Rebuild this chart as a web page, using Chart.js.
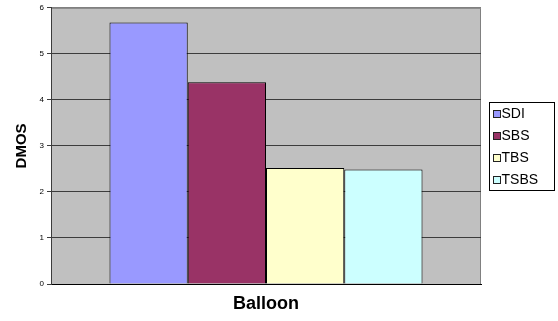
<!DOCTYPE html>
<html>
<head>
<meta charset="utf-8">
<script src="https://cdn.jsdelivr.net/npm/chart.js@4/dist/chart.umd.min.js"></script>
<style>
  html, body { margin: 0; padding: 0; background: #fff; }
  #wrap { width: 558px; height: 321px; }
</style>
</head>
<body>
<div id="wrap"><canvas id="c" width="558" height="321"></canvas></div>
<script>
// Categories and series
const categories = ['Balloon'];
const seriesNames = ['SDI', 'SBS', 'TBS', 'TSBS'];
const sdiValues = [5.68];
const sbsValues = [4.38];
const tbsValues = [2.52];
const tsbsValues = [2.49];
const yTicks = [0, 1, 2, 3, 4, 5, 6];

const seriesColors = ['#9999FF', '#993366', '#FFFFCC', '#CCFFFF'];
const seriesValues = [sdiValues, sbsValues, tbsValues, tsbsValues];

const FONT = 'Arial, "Liberation Sans", Helvetica, sans-serif';

// Grey plot background with a light frame on top and right
const plotFrame = {
  id: 'plotFrame',
  beforeDraw(chart) {
    const { ctx, chartArea: a } = chart;
    ctx.save();
    ctx.fillStyle = '#C0C0C0';
    ctx.fillRect(a.left, a.top, a.right - a.left, a.bottom - a.top);
    ctx.strokeStyle = '#808080';
    ctx.lineWidth = 1;
    ctx.beginPath();
    ctx.moveTo(a.left, a.top + 0.5);
    ctx.lineTo(a.right - 0.5, a.top + 0.5);
    ctx.lineTo(a.right - 0.5, a.bottom);
    ctx.stroke();
    ctx.restore();
  }
};

// Boxed legend on the right
const boxLegend = {
  id: 'boxLegend',
  afterDraw(chart) {
    const { ctx } = chart;
    const x = 489.5, y = 102.5, w = 65, h = 88;
    ctx.save();
    ctx.fillStyle = '#fff';
    ctx.fillRect(x, y, w, h);
    ctx.strokeStyle = '#000';
    ctx.lineWidth = 1;
    ctx.strokeRect(x, y, w, h);
    ctx.font = '14px ' + FONT;
    ctx.textBaseline = 'middle';
    ctx.textAlign = 'left';
    chart.data.datasets.forEach((ds, i) => {
      const cy = 114 + i * 22;
      ctx.fillStyle = ds.backgroundColor;
      ctx.fillRect(493.5, cy - 3.5, 7, 7);
      ctx.strokeStyle = '#222';
      ctx.strokeRect(493.5, cy - 3.5, 7, 7);
      ctx.fillStyle = '#000';
      ctx.fillText(ds.label, 501.5, cy + 0.5);
    });
    ctx.restore();
  }
};

new Chart(document.getElementById('c'), {
  type: 'bar',
  data: {
    labels: categories,
    datasets: seriesNames.map((name, i) => ({
      label: name,
      data: seriesValues[i],
      backgroundColor: seriesColors[i],
      borderColor: '#000',
      borderWidth: 1,
      categoryPercentage: 0.728,
      barPercentage: 1.0
    }))
  },
  options: {
    responsive: false,
    animation: false,
    events: [],
    layout: { padding: { top: 7, right: 77, left: 0, bottom: 0 } },
    plugins: {
      legend: { display: false },
      tooltip: { enabled: false }
    },
    scales: {
      x: {
        afterFit(scale) { scale.height = 37; },
        ticks: { display: false },
        grid: { display: false },
        border: { display: true, color: '#000', width: 1 },
        title: {
          display: true,
          text: categories[0],
          color: '#000',
          font: { family: FONT, size: 18, weight: 'bold' },
          padding: { top: 0, bottom: 6 }
        }
      },
      y: {
        min: 0,
        max: 6,
        afterFit(scale) { scale.width = 51; },
        afterBuildTicks(scale) { scale.ticks = yTicks.map(v => ({ value: v })); },
        ticks: {
          color: '#000',
          padding: 3,
          font: { family: FONT, size: 8 }
        },
        grid: {
          color: (ctx) => ctx.tick && ctx.tick.value === 6 ? '#808080' : '#3c3c3c',
          tickColor: '#3c3c3c',
          lineWidth: 1,
          tickLength: 4,
          drawTicks: true
        },
        border: { display: true, color: '#3c3c3c', width: 1 },
        title: {
          display: true,
          text: 'DMOS',
          color: '#000',
          font: { family: FONT, size: 15, weight: 'bold' },
          padding: { top: 13, bottom: 0 }
        }
      }
    }
  },
  plugins: [plotFrame, boxLegend]
});
</script>
</body>
</html>
